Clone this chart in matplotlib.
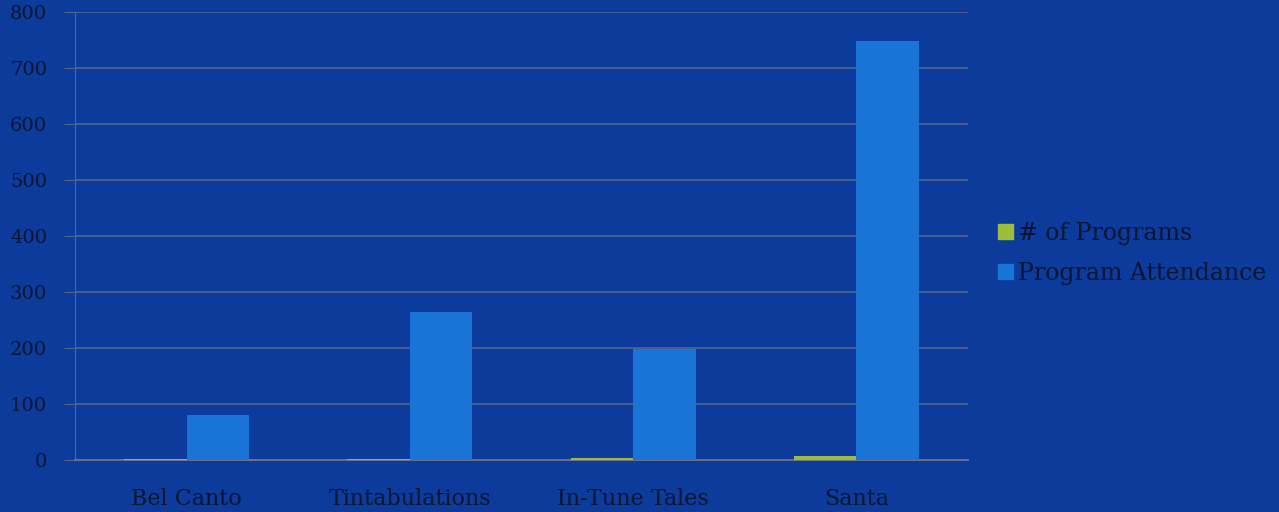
import numpy as np
import matplotlib
matplotlib.use("Agg")
import matplotlib.pyplot as plt
from matplotlib.patches import Patch

categories = ["Bel Canto", "Tintabulations", "In-Tune Tales", "Santa"]
num_programs = [1, 1, 3, 7]
attendance = [80, 265, 198, 748]
y_ticks = [0, 100, 200, 300, 400, 500, 600, 700, 800]

bg = "#0c3b9b"
blue = "#1a74d8"
green = "#9cbc3c"
text_color = "#08152f"
grid_color = "#56658f"

plt.rcParams["font.family"] = ["DejaVu Serif"]

fig = plt.figure(figsize=(12.79, 5.12), dpi=100, facecolor=bg)
ax = fig.add_axes([75 / 1279, 52 / 512, 893 / 1279, 448 / 512], facecolor=bg)

x = np.arange(len(categories))
w = 0.28
ax.bar(x - w / 2, num_programs, width=w, color=green, label="# of Programs", zorder=3)
ax.bar(x + w / 2, attendance, width=w, color=blue, label="Program Attendance", zorder=3)

ax.set_xlim(-0.5, len(categories) - 0.5)
ax.set_ylim(0, 800)
ax.set_yticks(y_ticks)
ax.set_yticklabels([str(v) for v in y_ticks], fontsize=14, color=text_color)
ax.set_xticks(x)
ax.set_xticklabels(categories, fontsize=16, color=text_color)
ax.tick_params(axis="y", length=8, color=grid_color, pad=12)
ax.tick_params(axis="x", length=0, pad=20)
ax.yaxis.grid(True, color=grid_color, linewidth=1.2, zorder=0)
ax.set_axisbelow(True)
for side in ["top", "right"]:
    ax.spines[side].set_visible(False)
ax.spines["left"].set_color(grid_color)
ax.spines["bottom"].set_color("#6f6f8a")
ax.spines["bottom"].set_linewidth(1.4)

handles = [Patch(color=green, label="# of Programs"),
           Patch(color=blue, label="Program Attendance")]
fig.legend(handles=handles, loc="center left", bbox_to_anchor=(0.764, 0.505),
           frameon=False, fontsize=17, labelcolor=text_color,
           handlelength=0.6, handleheight=0.6, handletextpad=0.25,
           labelspacing=0.75)

fig.savefig("out.png", dpi=100, facecolor=bg)
